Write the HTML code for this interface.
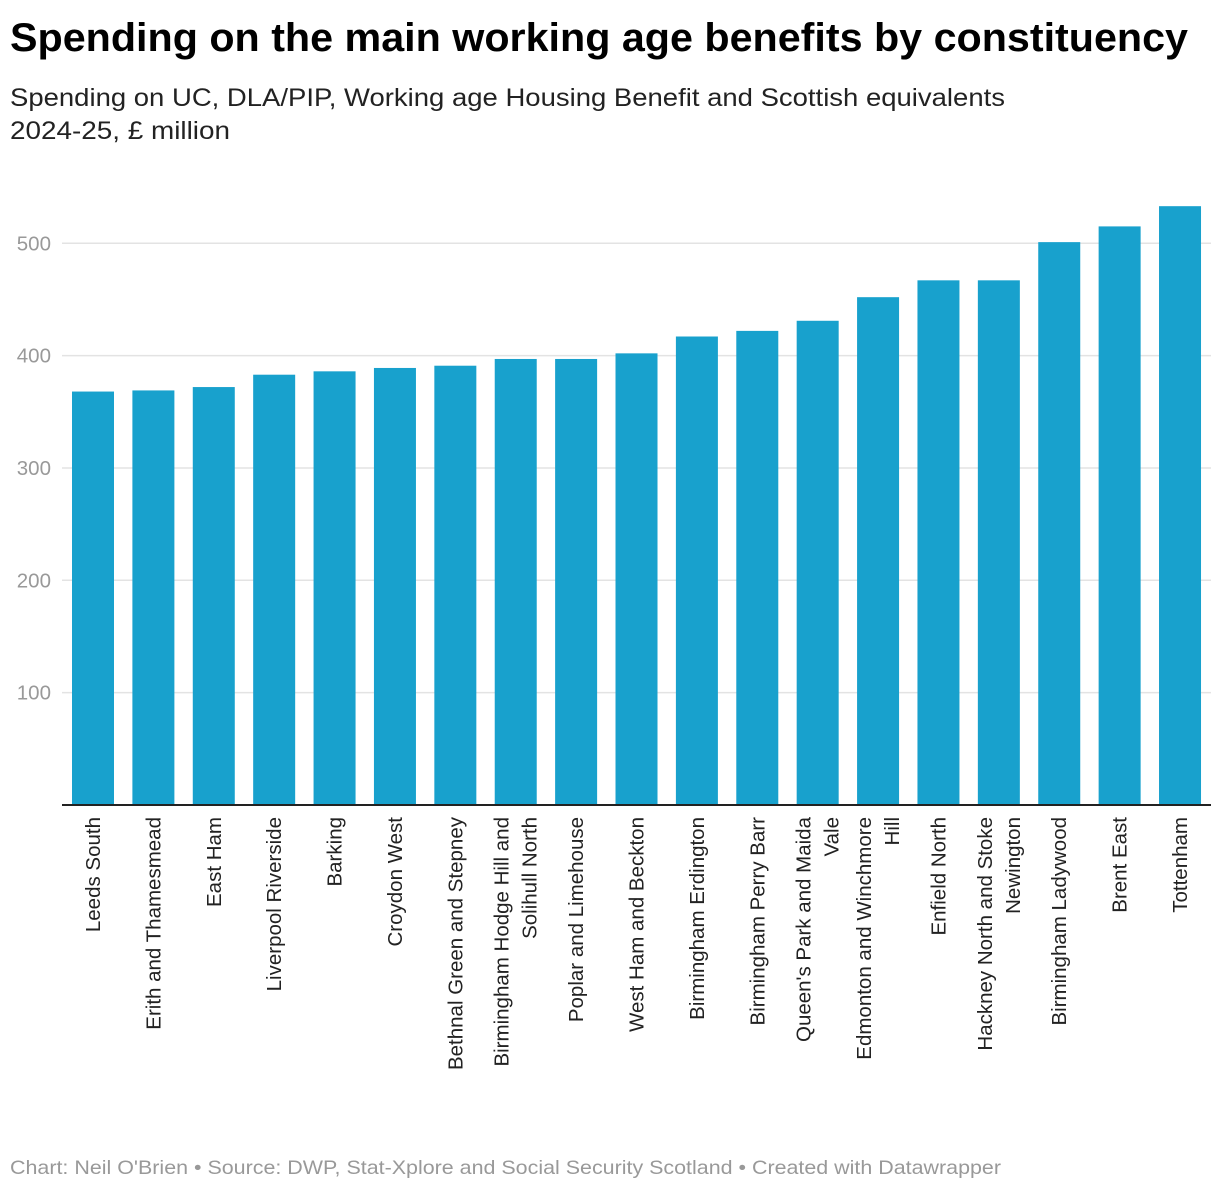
<!DOCTYPE html>
<html><head><meta charset="utf-8"><style>
body{margin:0;background:#fff;font-family:"Liberation Sans",Roboto,sans-serif;}
svg{display:block}
</style></head><body>
<svg width="1220" height="1192">
<text x="10" y="51" font-size="40" font-weight="bold" fill="#000" textLength="1178" lengthAdjust="spacingAndGlyphs">Spending on the main working age benefits by constituency</text>
<text x="10" y="106" font-size="25" fill="#222" textLength="995" lengthAdjust="spacingAndGlyphs">Spending on UC, DLA/PIP, Working age Housing Benefit and Scottish equivalents</text>
<text x="10" y="139" font-size="25" fill="#222" textLength="220" lengthAdjust="spacingAndGlyphs">2024-25, £ million</text>
<g id="grid"></g>
<g id="bars"></g>
<g id="xlabels"></g>
<line x1="62" x2="1211" y1="805" y2="805" stroke="#222" stroke-width="2"/>
<text x="10" y="1174" font-size="19.5" fill="#999" textLength="991" lengthAdjust="spacingAndGlyphs">Chart: Neil O'Brien • Source: DWP, Stat-Xplore and Social Security Scotland • Created with Datawrapper</text>
</svg>
<script>
const categories=[["Leeds South"],["Erith and Thamesmead"],["East Ham"],["Liverpool Riverside"],["Barking"],["Croydon West"],["Bethnal Green and Stepney"],["Birmingham Hodge Hill and","Solihull North"],["Poplar and Limehouse"],["West Ham and Beckton"],["Birmingham Erdington"],["Birmingham Perry Barr"],["Queen's Park and Maida","Vale"],["Edmonton and Winchmore","Hill"],["Enfield North"],["Hackney North and Stoke","Newington"],["Birmingham Ladywood"],["Brent East"],["Tottenham"]];
const values=[368,369,372,383,386,389,391,397,397,402,417,422,431,452,467,467,501,515,533];
const ticks=[100,200,300,400,500];
const NS="http://www.w3.org/2000/svg";
const y0=805,pxPer=1.1235,left=62,right=1211,step=60.39,bw=42,firstX=72;
const y=v=>y0-v*pxPer;
const grid=document.getElementById('grid');
ticks.forEach(t=>{
 const l=document.createElementNS(NS,'line');
 
 
 l.setAttribute('x1',left);l.setAttribute('x2',right);l.setAttribute('y1',y(t));l.setAttribute('y2',y(t));
 l.setAttribute('stroke','#e3e3e3');l.setAttribute('stroke-width','1.5');grid.appendChild(l);
 const tx=document.createElementNS(NS,'text');
 
 
 tx.setAttribute('x',51);tx.setAttribute('y',y(t)+7);tx.setAttribute('text-anchor','end');
 tx.setAttribute('font-size','20.5');tx.setAttribute('fill','#999');tx.textContent=t;grid.appendChild(tx);
});
const bars=document.getElementById('bars'),xl=document.getElementById('xlabels');
values.forEach((v,i)=>{
 const x=firstX+i*step;
 const r=document.createElementNS(NS,'rect');
 
 
 r.setAttribute('x',x);r.setAttribute('width',bw);r.setAttribute('y',y(v));r.setAttribute('height',v*pxPer);
 r.setAttribute('fill','#18a1cd');bars.appendChild(r);
 const cx=x+bw/2,lines=categories[i];
 lines.forEach((s,j)=>{
  const off=lines.length===1?0:(j===0?-14:14);
  const t=document.createElementNS(NS,'text');
  
  
  t.setAttribute('transform','translate('+(cx+off+7)+',817) rotate(-90)');
  t.setAttribute('text-anchor','end');t.setAttribute('font-size','20.5');t.setAttribute('fill','#222');
  t.textContent=s;xl.appendChild(t);
 });
});
</script>
</body></html>
